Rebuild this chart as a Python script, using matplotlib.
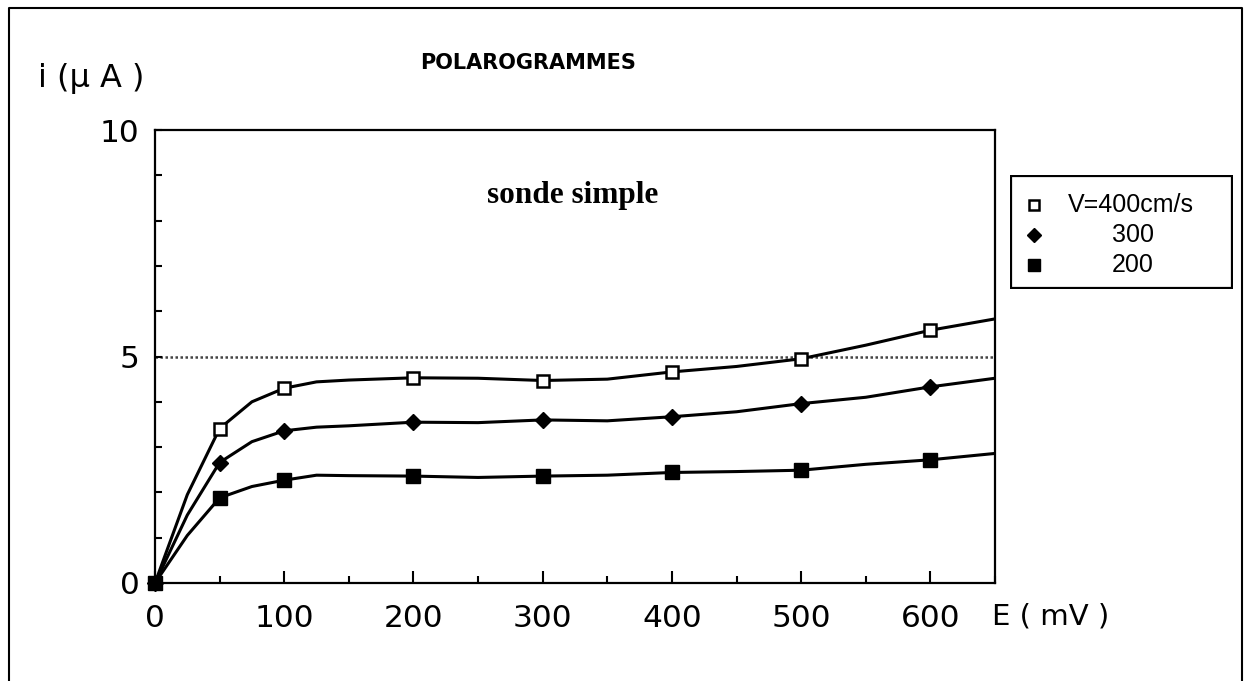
import matplotlib
matplotlib.use("Agg")
import matplotlib.pyplot as plt
from matplotlib.patches import Rectangle
from matplotlib.ticker import MultipleLocator

# potentiel (mV) des points mesures
E_pts = [0, 50, 100, 200, 300, 400, 500, 600]
i_400 = [0, 3.41, 4.30, 4.53, 4.47, 4.66, 4.95, 5.58]
i_300 = [0, 2.66, 3.36, 3.55, 3.60, 3.67, 3.96, 4.33]
i_200 = [0, 1.88, 2.27, 2.36, 2.36, 2.44, 2.49, 2.72]

# courbes lissees
E_curve = [0, 25, 50, 75, 100, 125, 150, 200, 250, 300, 350, 400, 450, 500, 550, 600, 650]
c_400 = [0, 1.95, 3.41, 4.00, 4.30, 4.44, 4.48, 4.53, 4.52, 4.47, 4.50, 4.66, 4.78, 4.95, 5.25, 5.58, 5.83]
c_300 = [0, 1.50, 2.66, 3.12, 3.36, 3.44, 3.47, 3.55, 3.54, 3.60, 3.58, 3.67, 3.78, 3.96, 4.10, 4.33, 4.52]
c_200 = [0, 1.05, 1.88, 2.13, 2.27, 2.38, 2.37, 2.36, 2.33, 2.36, 2.38, 2.44, 2.46, 2.49, 2.62, 2.72, 2.86]

limite = 5
x_ticks = [0, 100, 200, 300, 400, 500, 600]
y_ticks = [0, 5, 10]
legend_labels = ["V=400cm/s", "300", "200"]

W, H = 1248, 681
fig = plt.figure(figsize=(W / 100, H / 100), dpi=100)

# fond en coordonnees pixels pour cadre et textes
bg = fig.add_axes([0, 0, 1, 1])
bg.set_xlim(0, W)
bg.set_ylim(H, 0)
bg.axis("off")
bg.plot([9, 9, 1242, 1242], [H, 8, 8, H], color="black", lw=1.5)
bg.text(528, 63, "POLAROGRAMMES", fontsize=15, fontweight="bold",
        ha="center", va="center", family="DejaVu Sans")
bg.text(38, 78, "i (µ A )", fontsize=23, ha="left", va="center", family="DejaVu Sans")
bg.text(992, 617, "E ( mV )", fontsize=21, ha="left", va="center", family="DejaVu Sans")

# graphique
l, r, t, b = 155, 995, 130, 583
ax = fig.add_axes([l / W, 1 - b / H, (r - l) / W, (b - t) / H])
ax.set_xlim(0, 650)
ax.set_ylim(0, 10)

ax.axhline(limite, color="#444444", lw=1.8, ls=(0, (1, 1)), zorder=1)

ax.plot(E_curve, c_400, color="black", lw=2.2, zorder=2)
ax.plot(E_curve, c_300, color="black", lw=2.2, zorder=2)
ax.plot(E_curve, c_200, color="black", lw=2.2, zorder=2)

ax.plot(E_pts, i_400, ls="none", marker="s", ms=8.5, mfc="white", mec="black",
        mew=1.8, zorder=3, clip_on=False)
ax.plot(E_pts, i_300, ls="none", marker="D", ms=8.5, color="black", zorder=4, clip_on=False)
ax.plot(E_pts, i_200, ls="none", marker="s", ms=9.5, color="black", zorder=5, clip_on=False)

ax.text(573, 195, "sonde simple", transform=bg.transData, fontsize=22.5,
        fontweight="bold", family="Liberation Serif", ha="center", va="center")

ax.set_xticks(x_ticks)
ax.set_yticks(y_ticks)
ax.xaxis.set_minor_locator(MultipleLocator(50))
ax.yaxis.set_minor_locator(MultipleLocator(1))
ax.tick_params(axis="x", which="major", direction="in", length=8.5, width=1.5,
               labelsize=22.5, pad=15)
ax.tick_params(axis="x", which="minor", direction="in", length=5, width=1.5)
ax.tick_params(axis="y", which="both", direction="in", length=5, width=1.5,
               labelsize=22.5, pad=11)
for lab in ax.get_xticklabels() + ax.get_yticklabels():
    lab.set_family("DejaVu Sans")
for sp in ax.spines.values():
    sp.set_linewidth(1.6)

# legende dessinee a la main
lx0, lx1, ly0, ly1 = 1010, 1233, 175, 289
lax = fig.add_axes([lx0 / W, 1 - ly1 / H, (lx1 - lx0) / W, (ly1 - ly0) / H])
lax.set_xlim(lx0, lx1)
lax.set_ylim(ly1, ly0)
lax.axis("off")
lax.add_patch(Rectangle((lx0 + 1, ly0 + 1), lx1 - lx0 - 2, ly1 - ly0 - 2,
                        fill=False, lw=1.6, ec="black"))
rows = [205, 235, 265]
lax.plot([1034], [rows[0]], marker="s", ms=7.5, mfc="white", mec="black", mew=1.8)
lax.plot([1034], [rows[1]], marker="D", ms=7.5, color="black")
lax.plot([1034], [rows[2]], marker="s", ms=8, color="black")
lax.text(1068, rows[0], legend_labels[0], fontsize=18, ha="left", va="center",
         family="Liberation Sans")
lax.text(1112, rows[1], legend_labels[1], fontsize=18, ha="left", va="center",
         family="Liberation Sans")
lax.text(1112, rows[2], legend_labels[2], fontsize=18, ha="left", va="center",
         family="Liberation Sans")

fig.savefig("out.png", dpi=100)
